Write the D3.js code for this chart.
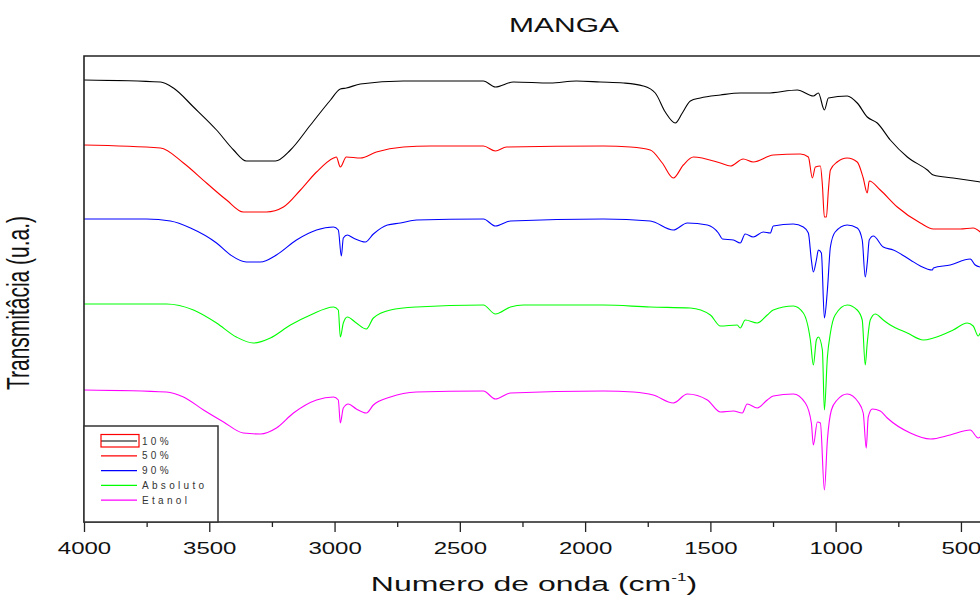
<!DOCTYPE html>
<html>
<head>
<meta charset="utf-8">
<script src="https://cdn.jsdelivr.net/npm/d3@7"></script>
<style>
  body { margin: 0; background: #fff; }
  text { font-family: "Liberation Sans", Arial, sans-serif; }
</style>
</head>
<body>
<div id="chart"></div>
<script>
// FTIR spectra - MANGA
const seriesNames = ['10%', '50%', '90%', 'Absoluto', 'Etanol'];
const seriesColors = ['#000000', '#ff0000', '#0000ff', '#00ff00', '#ff00ff'];
const majorTicks = [4000, 3500, 3000, 2500, 2000, 1500, 1000, 500];
const minorTicks = [3750, 3250, 2750, 2250, 1750, 1250, 750];

// [wavenumber (cm-1), transmittance (u.a.)]
const s10 = [
  [4000, 88.4], [3695, 88.0], [3643, 86.8], [3563, 83.0], [3471, 78.4], [3403, 74.4],
  [3352, 72.2], [3236, 72.2], [3176, 74.4], [3096, 79.4], [3016, 84.4], [2977, 86.6],
  [2953, 86.8], [2897, 87.6], [2725, 88.2], [2406, 88.2], [2358, 87.0], [2286, 88.0],
  [2139, 87.8], [2035, 88.2], [1939, 88.0], [1847, 87.8], [1768, 87.2], [1720, 85.8],
  [1680, 82.0], [1640, 79.8], [1612, 81.8], [1580, 84.2], [1540, 84.8], [1460, 85.4],
  [1381, 85.8], [1273, 85.8], [1153, 86.4], [1089, 85.2], [1069, 85.8], [1045, 82.4],
  [1029, 84.8], [954, 85.2], [914, 83.8], [874, 81.0], [834, 79.8], [782, 76.4],
  [714, 73.0], [634, 70.4], [610, 69.4], [531, 68.8], [423, 68.0]
];

const s50 = [
  [4000, 75.4], [3695, 74.8], [3603, 71.8], [3511, 67.8], [3431, 64.4], [3364, 62.0],
  [3272, 62.0], [3204, 63.0], [3136, 66.4], [3072, 70.0], [3004, 72.8], [2993, 73.0],
  [2977, 71.0], [2953, 73.0], [2897, 72.8], [2833, 74.0], [2725, 75.0], [2617, 75.2],
  [2406, 75.2], [2358, 74.2], [2314, 75.0], [1927, 75.2], [1819, 75.0], [1740, 74.4],
  [1692, 71.8], [1648, 68.8], [1608, 71.4], [1568, 73.0], [1460, 71.8], [1420, 71.2],
  [1369, 72.6], [1329, 72.0], [1249, 73.4], [1141, 73.6], [1109, 73.0], [1093, 68.8],
  [1081, 71.0], [1061, 71.2], [1053, 67.4], [1045, 61.0], [1037, 61.0], [1029, 66.4],
  [1021, 70.4], [994, 72.0], [954, 72.8], [914, 72.0], [890, 68.8], [874, 65.8],
  [866, 68.2], [822, 66.4], [754, 63.0], [662, 59.8], [610, 58.6], [503, 58.6],
  [451, 58.8], [423, 58.0]
];

const s90 = [
  [4000, 60.6], [3751, 60.6], [3655, 60.2], [3575, 58.8], [3471, 55.8], [3415, 53.4],
  [3352, 52.0], [3296, 52.0], [3232, 53.4], [3152, 56.4], [3072, 58.4], [3004, 59.0],
  [2985, 58.4], [2973, 53.2], [2965, 56.8], [2949, 57.4], [2925, 56.8], [2877, 56.0],
  [2845, 57.6], [2789, 59.4], [2737, 59.8], [2673, 60.4], [2406, 60.6], [2358, 59.2],
  [2298, 60.2], [1927, 60.6], [1740, 60.2], [1648, 58.4], [1592, 59.8], [1512, 59.4],
  [1468, 57.8], [1452, 56.6], [1408, 56.4], [1381, 55.8], [1361, 57.6], [1329, 57.0],
  [1289, 58.0], [1261, 57.8], [1249, 59.2], [1169, 59.6], [1129, 59.0], [1109, 57.8],
  [1097, 52.4], [1089, 50.0], [1077, 52.4], [1069, 54.4], [1057, 53.8], [1045, 40.8],
  [1033, 46.4], [1021, 55.0], [1002, 58.0], [954, 59.4], [914, 58.8], [894, 56.4],
  [882, 49.0], [874, 51.8], [866, 56.4], [850, 57.2], [810, 55.0], [770, 54.4],
  [702, 52.4], [662, 51.2], [614, 50.4], [610, 50.8], [543, 51.4], [463, 52.6],
  [443, 51.4], [423, 51.0]
];

const sAbsoluto = [
  [4000, 43.6], [3671, 43.6], [3563, 42.4], [3471, 39.8], [3392, 37.0], [3324, 35.8],
  [3256, 36.8], [3176, 39.4], [3096, 41.4], [3004, 43.0], [2985, 42.4], [2977, 37.0],
  [2965, 39.8], [2949, 41.0], [2913, 39.8], [2873, 38.6], [2845, 40.8], [2777, 42.4],
  [2673, 43.0], [2406, 43.4], [2358, 41.6], [2298, 43.0], [2246, 43.4], [1927, 43.4],
  [1740, 43.0], [1580, 42.8], [1500, 41.4], [1460, 39.2], [1393, 39.4], [1381, 38.8],
  [1361, 40.4], [1313, 39.8], [1273, 41.4], [1249, 42.4], [1169, 43.2], [1129, 41.8],
  [1101, 36.4], [1089, 31.4], [1077, 36.4], [1069, 37.0], [1053, 34.4], [1045, 22.4],
  [1033, 33.0], [1021, 37.8], [1002, 41.4], [954, 43.4], [914, 42.4], [894, 40.4],
  [882, 31.4], [874, 35.8], [862, 40.4], [842, 41.6], [810, 40.4], [782, 39.4],
  [714, 37.8], [650, 36.4], [610, 36.8], [531, 38.4], [475, 39.8], [451, 39.2],
  [431, 37.2], [423, 37.8]
];

const sEtanol = [
  [4000, 26.4], [3671, 26.0], [3603, 25.0], [3523, 22.4], [3443, 20.0], [3364, 17.8],
  [3296, 17.6], [3232, 18.8], [3164, 21.8], [3072, 24.4], [3004, 25.0], [2985, 24.4],
  [2977, 19.8], [2965, 22.8], [2945, 23.6], [2913, 22.6], [2873, 21.8], [2845, 23.4],
  [2777, 25.0], [2673, 26.0], [2406, 26.2], [2358, 24.6], [2298, 25.8], [1927, 26.2],
  [1807, 26.0], [1728, 25.4], [1648, 23.8], [1592, 25.6], [1512, 24.4], [1460, 22.0],
  [1408, 22.2], [1373, 21.8], [1353, 23.6], [1313, 22.8], [1273, 24.4], [1249, 25.2],
  [1169, 25.6], [1121, 23.8], [1097, 19.8], [1089, 15.4], [1073, 20.0], [1061, 19.8],
  [1045, 6.4], [1033, 16.4], [1017, 22.4], [994, 24.4], [954, 25.6], [910, 24.0],
  [890, 21.8], [878, 14.8], [870, 21.0], [854, 22.6], [822, 22.2], [794, 20.8],
  [702, 17.8], [622, 16.6], [543, 17.4], [463, 18.4], [431, 16.8], [423, 17.0]
];

const allSeries = [s10, s50, s90, sAbsoluto, sEtanol];

const width = 980, height = 596;
const margin = { left: 84, top: 56, bottom: 522, right: 986 };
const stretch = 1.5; // glyphs of the source are widened horizontally

const svg = d3.select('#chart').append('svg')
  .attr('width', width)
  .attr('height', height)
  .style('display', 'block');

const x = d3.scaleLinear().domain([4000, 400]).range([margin.left, margin.right]);
const y = d3.scaleLinear().domain([0, 93.2]).range([margin.bottom, margin.top]);

svg.append('clipPath').attr('id', 'plot-clip')
  .append('rect')
  .attr('x', margin.left).attr('y', margin.top)
  .attr('width', margin.right - margin.left).attr('height', margin.bottom - margin.top);

// Spectra
const line = d3.line()
  .x(d => x(d[0]))
  .y(d => y(d[1]))
  .curve(d3.curveMonotoneX);

svg.append('g')
  .attr('clip-path', 'url(#plot-clip)')
  .selectAll('path')
  .data(allSeries)
  .enter()
  .append('path')
  .attr('fill', 'none')
  .attr('stroke', (d, i) => seriesColors[i])
  .attr('stroke-width', 1.1)
  .attr('stroke-linejoin', 'round')
  .attr('d', line);

// Minor ticks
svg.append('g')
  .attr('transform', `translate(0,${margin.bottom})`)
  .call(d3.axisBottom(x).tickValues(minorTicks).tickSize(5).tickSizeOuter(0).tickFormat(''))
  .call(g => g.select('.domain').remove())
  .call(g => g.selectAll('line').attr('stroke', '#222').attr('stroke-width', 1.3));

// Major ticks + labels
const xAxis = svg.append('g')
  .attr('transform', `translate(0,${margin.bottom})`)
  .call(d3.axisBottom(x).tickValues(majorTicks).tickSize(10).tickSizeOuter(0).tickFormat(d3.format('d')))
  .call(g => g.select('.domain').remove());

xAxis.selectAll('line').attr('stroke', '#222').attr('stroke-width', 1.3);
xAxis.selectAll('text')
  .attr('y', 0)
  .attr('dy', null)
  .attr('transform', `translate(0,32) scale(${stretch},1)`)
  .attr('fill', '#111')
  .style('font-size', '16px')
  .style('font-family', '"Liberation Sans", Arial, sans-serif');

// Frame
svg.append('path')
  .attr('d', `M${margin.right},${margin.top}H${margin.left}V${margin.bottom}H${margin.right}`)
  .attr('fill', 'none')
  .attr('stroke', '#222')
  .attr('stroke-width', 1.6);

// Title
svg.append('text')
  .attr('transform', `translate(564,32) scale(${stretch},1)`)
  .attr('text-anchor', 'middle')
  .style('font-size', '20px')
  .attr('fill', '#111')
  .text('MANGA');

// X axis title
const xt = svg.append('text')
  .attr('transform', `translate(534,591) scale(1.56,1)`)
  .attr('text-anchor', 'middle')
  .style('font-size', '20.5px')
  .attr('fill', '#111');
xt.append('tspan').text('Numero de onda (cm');
xt.append('tspan').attr('dy', -10).style('font-size', '11px').text('-1');
xt.append('tspan').attr('dy', 10).text(')');

// Y axis title
svg.append('text')
  .attr('transform', `translate(29,303) scale(${stretch},1) rotate(-90)`)
  .attr('text-anchor', 'middle')
  .style('font-size', '21px')
  .attr('fill', '#111')
  .text('Transmitâcia (u.a.)');

// Legend
const legend = svg.append('g');
legend.append('rect')
  .attr('x', margin.left).attr('y', 426)
  .attr('width', 134).attr('height', margin.bottom - 426)
  .attr('fill', '#fff')
  .attr('stroke', '#333')
  .attr('stroke-width', 1.5);

const rows = legend.selectAll('g.row')
  .data(seriesNames)
  .enter()
  .append('g')
  .attr('class', 'row')
  .attr('transform', (d, i) => `translate(101,${441 + i * 14.8})`);

rows.append('line')
  .attr('x1', 0).attr('x2', 36)
  .attr('stroke', (d, i) => seriesColors[i])
  .attr('stroke-width', 1.2);

rows.append('text')
  .attr('x', 41)
  .attr('dy', '0.35em')
  .style('font-size', '10px')
  .style('letter-spacing', '3.3px')
  .attr('fill', '#333')
  .text(d => d);

// selection box drawn around the first legend sample
legend.append('rect')
  .attr('x', 101).attr('y', 434.5)
  .attr('width', 38).attr('height', 12.5)
  .attr('fill', 'none')
  .attr('stroke', '#ff0000')
  .attr('stroke-width', 1.2);
</script>
</body>
</html>
